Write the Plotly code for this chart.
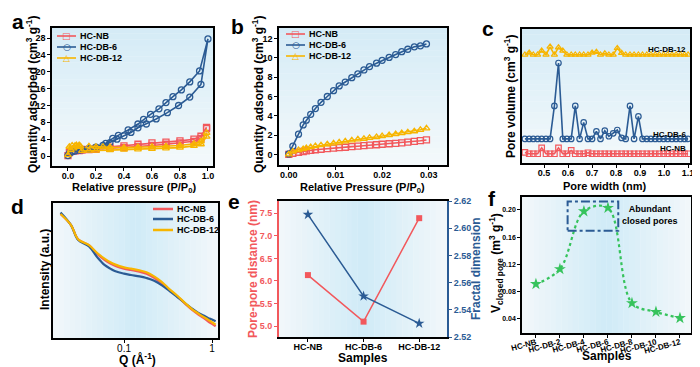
import plotly.graph_objects as go

FONT = "Liberation Sans, Arial, sans-serif"
RED = "#F2585C"
BLUE = "#2B5B94"
YEL = "#F7B500"
GREEN = "#36C35C"
OFF = 8                      # page body margin of the browser
W, H = 700 - OFF, 367 - OFF  # figure size so it fills the 700x367 window

# ---------------- panel a: isotherms (adsorption then desorption) ----------------
a_nb_x = [0.0, 0.01, 0.03, 0.05, 0.08, 0.1, 0.15, 0.2, 0.3, 0.4, 0.5, 0.6, 0.7, 0.8, 0.9, 0.95, 0.99,
          0.99, 0.95, 0.9, 0.8, 0.7, 0.6, 0.5, 0.4, 0.3, 0.2, 0.1]
a_nb_y = [0.1, 0.8, 1.1, 1.2, 1.3, 1.4, 1.5, 1.6, 1.8, 2.0, 2.3, 2.5, 2.8, 3.1, 3.5, 4.2, 6.5,
          6.8, 4.7, 4.0, 3.6, 3.3, 3.1, 2.8, 2.4, 2.1, 1.8, 1.6]
a_db6_x = [0.0, 0.01, 0.03, 0.05, 0.08, 0.1, 0.15, 0.2, 0.25, 0.3, 0.35, 0.4, 0.45, 0.5, 0.56, 0.63,
           0.71, 0.79, 0.87, 0.95, 1.0,
           0.94, 0.87, 0.81, 0.75, 0.70, 0.65, 0.59, 0.54, 0.50, 0.43, 0.36, 0.32, 0.27, 0.2, 0.15, 0.1]
a_db6_y = [0.1, 0.6, 1.0, 1.2, 1.4, 1.5, 1.7, 2.0, 2.5, 3.2, 4.0, 4.8, 5.6, 6.7, 7.6, 8.8,
           10.3, 12.0, 14.0, 17.0, 27.8,
           20.2, 17.6, 15.7, 14.1, 12.7, 11.2, 9.9, 8.7, 7.6, 6.2, 4.9, 4.2, 3.0, 2.1, 1.8, 1.6]
a_db12_x = [0.0, 0.01, 0.02, 0.03, 0.04, 0.05, 0.06, 0.07, 0.08, 0.09, 0.1, 0.15, 0.2, 0.3, 0.4, 0.5,
            0.6, 0.7, 0.8, 0.9, 0.95, 0.99,
            0.99, 0.95, 0.9, 0.8, 0.7, 0.6, 0.5, 0.4, 0.3, 0.25, 0.2, 0.15]
a_db12_y = [0.2, 2.2, 1.4, 2.5, 1.8, 2.4, 2.6, 2.2, 2.6, 2.3, 1.2, 1.3, 1.3, 1.4, 1.5, 1.6,
            1.7, 1.8, 2.0, 2.4, 2.8, 4.6,
            5.5, 3.5, 2.9, 2.5, 2.3, 2.2, 2.1, 2.0, 2.1, 2.2, 2.2, 2.3]

# ---------------- panel b: low-pressure isotherms ----------------
b_x = [0.0, 0.00087, 0.00208, 0.00308, 0.00375, 0.00469, 0.0057, 0.0069, 0.00825, 0.00959, 0.0108,
       0.0121, 0.0135, 0.0148, 0.0161, 0.0173, 0.0188, 0.0200, 0.0215, 0.0229, 0.0242, 0.0255,
       0.0269, 0.0282, 0.0295]
b_nb = [0.0, 0.12, 0.22, 0.3, 0.36, 0.42, 0.48, 0.53, 0.6, 0.65, 0.7, 0.74, 0.8, 0.85, 0.9, 0.95,
        1.0, 1.05, 1.1, 1.15, 1.2, 1.27, 1.35, 1.42, 1.5]
b_db6 = [0.05, 0.85, 2.1, 3.05, 3.55, 4.15, 4.75, 5.4, 6.0, 6.6, 7.1, 7.5, 7.95, 8.35, 8.75, 9.1,
         9.45, 9.75, 10.05, 10.35, 10.65, 10.9, 11.15, 11.25, 11.45]
b_db12 = [0.0, 0.3, 0.45, 0.55, 0.65, 0.75, 0.85, 0.95, 1.05, 1.15, 1.25, 1.35, 1.45, 1.55, 1.62,
          1.72, 1.8, 1.9, 2.0, 2.1, 2.2, 2.3, 2.4, 2.55, 2.7]

# ---------------- panel c: pore size distribution (stacked, offset) ----------------
c_x = [0.420, 0.438, 0.455, 0.473, 0.490, 0.508, 0.525, 0.543, 0.560, 0.578, 0.595, 0.613, 0.630,
       0.648, 0.665, 0.683, 0.700, 0.718, 0.735, 0.753, 0.770, 0.788, 0.805, 0.823, 0.840, 0.858,
       0.875, 0.893, 0.910, 0.928, 0.945, 0.963, 0.980, 0.998, 1.015, 1.033, 1.050, 1.068, 1.085,
       1.100]
c_nb = [4, 0, 0, 0, 18, 0, 0, 0, 18, 0, 0, 10, 0, 0, 0, 3, 0, 0, 0, 0, 0, 0, 0, 0, 0, 0,
        0, 0, 0, 0, 0, 0, 0, 0, 0, 0, 0, 0, 0, 0]
c_db6 = [0, 0, 0, 0, 0, 0, 0, 100, 230, 0, 0, 0, 100, 0, 50, 0, 0, 23, 0, 25, 8, 17, 27, 3, 0, 100,
         0, 68, 0, 0, 0, 0, 0, 0, 0, 0, 0, 0, 0, 0]
c_db12 = [0, 6, 0, 0, 12, 0, 24, 0, 22, 12, 0, 0, 0, 0, 0, 0, 6, 8, 0, 4, 0, 0, 20, 5, 0, 0,
          0, 0, 0, 0, 0, 0, 0, 0, 0, 0, 0, 0, 0, 0]
c_offsets = {"HC-NB": 0, "HC-DB-6": 45, "HC-DB-12": 300}

# ---------------- panel d: SAXS ----------------
d_q = [0.019, 0.025, 0.03, 0.04, 0.05, 0.06, 0.07, 0.08, 0.1, 0.12, 0.15, 0.18, 0.22, 0.27, 0.33,
       0.4, 0.5, 0.6, 0.7, 0.8, 0.9, 1.0, 1.1]
d_nb = [375, 342, 300, 282, 255, 238, 227, 220, 212, 208, 203, 197, 185, 168, 148, 130, 106, 88,
        75, 65, 55, 47, 40]
d_db6 = [380, 342, 298, 278, 245, 223, 212, 204, 197, 193, 189, 184, 176, 162, 145, 128, 108, 92,
         80, 72, 65, 60, 55]
d_db12 = [375, 342, 300, 282, 258, 242, 231, 224, 216, 212, 207, 201, 189, 172, 150, 132, 108, 90,
          78, 68, 60, 52, 45]

# ---------------- panel e ----------------
e_samples = ["HC-NB", "HC-DB-6", "HC-DB-12"]
e_distance = [6.13, 5.10, 7.39]
e_fractal = [2.61, 2.55, 2.53]

# ---------------- panel f ----------------
f_samples = ["HC-NB", "HC-DB-2", "HC-DB-4", "HC-DB-6", "HC-DB-8", "HC-DB-10", "HC-DB-12"]
f_vclosed = [0.091, 0.113, 0.198, 0.203, 0.063, 0.050, 0.041]

series_names = ["HC-NB", "HC-DB-6", "HC-DB-12"]
series_colors = [RED, BLUE, YEL]
series_symbols = ["square-open", "circle-open", "triangle-up-open"]
series_glyphs = ["□", "○", "△"]

# ---------------------------------------------------------------------------
fig = go.Figure()


def px2x(p):
    return (p - OFF) / W


def px2y(p):
    return 1 - (p - OFF) / H


# panel a
for name, xs, ys, col, sym in zip(series_names, [a_nb_x, a_db6_x, a_db12_x], [a_nb_y, a_db6_y, a_db12_y],
                                  series_colors, series_symbols):
    fig.add_trace(go.Scatter(x=xs, y=ys, name=name, mode="lines+markers", xaxis="x", yaxis="y",
                             showlegend=False, line=dict(color=col, width=1.6),
                             marker=dict(symbol=sym, color=col, size=6, line=dict(width=1.3))))
# panel b
for name, ys, col, sym in zip(series_names, [b_nb, b_db6, b_db12], series_colors, series_symbols):
    fig.add_trace(go.Scatter(x=b_x, y=ys, name=name, mode="lines+markers", xaxis="x2", yaxis="y2",
                             showlegend=False, line=dict(color=col, width=1.6),
                             marker=dict(symbol=sym, color=col, size=6, line=dict(width=1.3))))
# panel c
for name, ys, col, sym in zip(series_names, [c_nb, c_db6, c_db12], series_colors, series_symbols):
    off = c_offsets[name]
    fig.add_trace(go.Scatter(x=c_x, y=[v + off for v in ys], name=name, mode="lines+markers",
                             xaxis="x3", yaxis="y3", showlegend=False,
                             line=dict(color=col, width=1.6),
                             marker=dict(symbol=sym, color=col, size=5.5, line=dict(width=1.2))))
# panel d
for name, ys, col in zip(series_names, [d_nb, d_db6, d_db12], series_colors):
    fig.add_trace(go.Scatter(x=d_q, y=ys, name=name, mode="lines", xaxis="x4", yaxis="y4",
                             showlegend=False, line=dict(color=col, width=2.2, shape="spline")))
# panel e
fig.add_trace(go.Scatter(x=e_samples, y=e_distance, mode="lines+markers", xaxis="x5", yaxis="y5",
                         showlegend=False, line=dict(color=RED, width=1.5),
                         marker=dict(symbol="square", color=RED, size=6)))
fig.add_trace(go.Scatter(x=e_samples, y=e_fractal, mode="lines+markers", xaxis="x5", yaxis="y6",
                         showlegend=False, line=dict(color=BLUE, width=1.5),
                         marker=dict(symbol="star", color=BLUE, size=8)))
# panel f
fig.add_trace(go.Scatter(x=f_samples, y=f_vclosed, mode="lines+markers", xaxis="x6", yaxis="y7",
                         showlegend=False, line=dict(color=GREEN, width=2.2, dash="dot", shape="spline"),
                         marker=dict(symbol="star", color=GREEN, size=9)))

# ---------------- axes ----------------
tickf = dict(family=FONT, size=9, color="black", weight="bold")


def ax(domain, **kw):
    d = dict(domain=domain, showline=True, linecolor="black", linewidth=1.5, mirror=True,
             ticks="outside", ticklen=3, tickwidth=1.2, tickcolor="black", showgrid=False,
             zeroline=False, tickfont=tickf, automargin=False)
    d.update(kw)
    return d


XS = -3  # pull x tick labels closer to the axis line

layout = dict(
    width=W, height=H, margin=dict(l=0, r=0, t=0, b=0, autoexpand=False),
    paper_bgcolor="white", plot_bgcolor="white", font=dict(family=FONT), showlegend=False,
    xaxis=ax([px2x(52), px2x(213)], anchor="y", range=[-0.114, 1.036], tickvals=[0, 0.2, 0.4, 0.6, 0.8, 1.0],
             tickformat=".1f", ticklabelstandoff=XS),
    yaxis=ax([px2y(166), px2y(28)], anchor="x", range=[-2.37, 30.4], tickvals=list(range(0, 29, 4))),
    xaxis2=ax([px2x(279), px2x(447)], anchor="y2", range=[-0.0021, 0.0339],
              tickvals=[0, 0.01, 0.02, 0.03], tickformat=".2f", ticklabelstandoff=XS),
    yaxis2=ax([px2y(165), px2y(28)], anchor="x2", range=[-1.1, 13.1], tickvals=list(range(0, 13, 2))),
    xaxis3=ax([px2x(522), px2x(690)], anchor="y3", range=[0.408, 1.108],
              tickvals=[0.5, 0.6, 0.7, 0.8, 0.9, 1.0, 1.1], tickformat=".1f", ticklabelstandoff=XS),
    yaxis3=ax([px2y(163), px2y(29)], anchor="x3", range=[-28, 378], ticks="", showticklabels=False),
    xaxis4=ax([px2x(53), px2x(218)], anchor="y4", type="log", range=[-1.807, 0.068],
              tickvals=[0.1, 1], ticktext=["0.1", "1"], ticklabelstandoff=XS,
              tickfont=dict(family=FONT, size=10, color="black")),
    yaxis4=ax([px2y(338), px2y(203)], anchor="x4", range=[5, 408], ticks="", showticklabels=False),
    xaxis5=ax([px2x(279), px2x(447)], anchor="y5", range=[-0.52, 2.5], type="category", ticklabelstandoff=XS,
              tickfont=dict(family=FONT, size=9, color="black", weight="bold")),
    yaxis5=ax([px2y(337), px2y(201)], anchor="x5", range=[4.76, 7.77], dtick=0.5, tickformat=".1f",
              linecolor=RED, linewidth=2, mirror=False, tickcolor=RED,
              tickfont=dict(family=FONT, size=9, color=RED, weight="bold")),
    yaxis6=ax([px2y(337), px2y(201)], anchor="x5", overlaying="y5", side="right",
              range=[2.52, 2.62], dtick=0.02, tickformat=".2f",
              linecolor=BLUE, linewidth=2, mirror=False, tickcolor=BLUE,
              tickfont=dict(family=FONT, size=9, color=BLUE, weight="bold")),
    xaxis6=ax([px2x(522), px2x(691)], anchor="y7", range=[-0.58, 6.46], type="category", tickangle=-15,
              ticklabelstandoff=XS, tickfont=dict(family=FONT, size=8, color="black", weight="bold")),
    yaxis7=ax([px2y(333), px2y(197)], anchor="x6", range=[0.019, 0.219],
              tickvals=[0.04, 0.08, 0.12, 0.16, 0.20], tickformat=".2f",
              tickfont=dict(family=FONT, size=7, color="black", weight="bold")),
)

# ---------------- background gradients ----------------
shapes = []


def lerp(c1, c2, t):
    return "rgb(%d,%d,%d)" % tuple(round(a + (b - a) * t) for a, b in zip(c1, c2))


def vgrad(xr, yr, bottom, top, n=24):
    for i in range(n):
        t = (i + 0.5) / n
        shapes.append(dict(type="rect", xref=xr + " domain", yref=yr + " domain", x0=0, x1=1,
                           y0=i / n, y1=(i + 1) / n + 0.002, fillcolor=lerp(bottom, top, t),
                           line=dict(width=0), layer="below"))


def hgrad(xr, yr, edge, center, n=30):
    for i in range(n):
        t = (i + 0.5) / n
        k = 1 - abs(t - 0.5) * 2
        shapes.append(dict(type="rect", xref=xr + " domain", yref=yr + " domain", x0=i / n,
                           x1=(i + 1) / n + 0.002, y0=0, y1=1, fillcolor=lerp(edge, center, k),
                           line=dict(width=0), layer="below"))


vb, vt = (244, 249, 251), (212, 235, 246)
vgrad("x", "y", vb, vt)
vgrad("x2", "y2", vb, vt)
vgrad("x3", "y3", vb, vt)
he, hc = (242, 247, 250), (208, 235, 247)
hgrad("x4", "y4", he, hc)
hgrad("x5", "y5", he, hc)
hgrad("x6", "y7", he, hc)

# dash-dot box in panel f
shapes.append(dict(type="rect", xref="x6", yref="y7", x0=1.32, x1=3.43, y0=0.1695, y1=0.2122,
                   line=dict(color=BLUE, width=2, dash="dashdot"), layer="above"))

# ---------------- annotations ----------------
ann = []
titf = dict(family=FONT, size=11, color="black", weight="bold")


def pa(text, x, y, angle=0, font=titf, xanchor="center"):
    ann.append(dict(text=text, x=px2x(x), y=px2y(y), xref="paper", yref="paper", showarrow=False,
                    textangle=angle, font=font, xanchor=xanchor, yanchor="middle"))


# manual legends (compact spacing as in the reference)
legf = dict(family=FONT, size=9, color="black", weight="bold")


def legend(x0, x1, xt, ys, with_glyph, lw):
    for name, col, g, y in zip(series_names, series_colors, series_glyphs, ys):
        shapes.append(dict(type="line", xref="paper", yref="paper", x0=px2x(x0), x1=px2x(x1),
                           y0=px2y(y), y1=px2y(y), line=dict(color=col, width=lw), layer="above"))
        if with_glyph:
            ann.append(dict(text=g, x=px2x((x0 + x1) / 2), y=px2y(y), xref="paper", yref="paper",
                            showarrow=False, xanchor="center", yanchor="middle",
                            font=dict(family="DejaVu Sans", size=9, color=col)))
        pa(name, xt, y, font=legf, xanchor="left")


legend(57, 76, 78, [36, 47, 58], True, 1.6)
legend(286, 305, 307, [34, 45, 56], True, 1.6)
legend(153, 173, 175, [209, 219, 230], False, 2.5)

letf = dict(family=FONT, size=21, color="black", weight="bold")
for t, x, y in [("a", 18, 22), ("b", 238, 27), ("c", 488, 28), ("d", 17, 206), ("e", 234, 202), ("f", 492, 198)]:
    pa(t, x, y, font=letf)

big = dict(family=FONT, size=12, color="black", weight="bold")
pa("Quantity adsorbed (cm<sup>3</sup> g<sup>-1</sup>)", 32, 95, -90, font=big)
pa("Relative pressure (P/P<sub>0</sub>)", 134, 188)
pa("Quantity adsorbed (cm<sup>3</sup> g<sup>-1</sup>)", 258, 95, -90, font=big)
pa("Relative Pressure (P/P<sub>0</sub>)", 362, 188)
pa("Pore volume (cm<sup>3</sup> g<sup>-1</sup>)", 510, 96, -90, font=big)
pa("Pore width (nm)", 604, 186)
pa("Intensity (a.u.)", 45, 270, -90, font=big)
pa("Q (Å<sup>-1</sup>)", 137, 359, font=big)
pa("Pore-pore distance (nm)", 253, 269, -90, font=dict(family=FONT, size=12, color=RED, weight="bold"))
pa("Fractal dimension", 476, 269, -90, font=dict(family=FONT, size=12, color=BLUE, weight="bold"))
pa("Samples", 363, 358, font=dict(family=FONT, size=12, color="black", weight="bold"))
pa("V<sub>closed pore</sub> (m<sup>3</sup> g<sup>-1</sup>)", 496, 263, -90, font=big)
pa("Samples", 607, 356, font=dict(family=FONT, size=12, color="black", weight="bold"))

labf = dict(family=FONT, size=8, color="black", weight="bold")
for text, yv in [("HC-DB-12", 317), ("HC-DB-6", 58), ("HC-NB", 15)]:
    ann.append(dict(text=text, x=1.1, y=yv, xref="x3", yref="y3", showarrow=False, xanchor="right",
                    yanchor="middle", font=labf))
ann.append(dict(text="Abundant<br>closed pores", x=4.75, y=0.193, xref="x6", yref="y7", showarrow=False,
                xanchor="center", yanchor="middle", font=dict(family=FONT, size=9, color="black", weight="bold")))

layout["shapes"] = shapes
layout["annotations"] = ann

fig.update_layout(**layout)
fig.write_html("out.html")
